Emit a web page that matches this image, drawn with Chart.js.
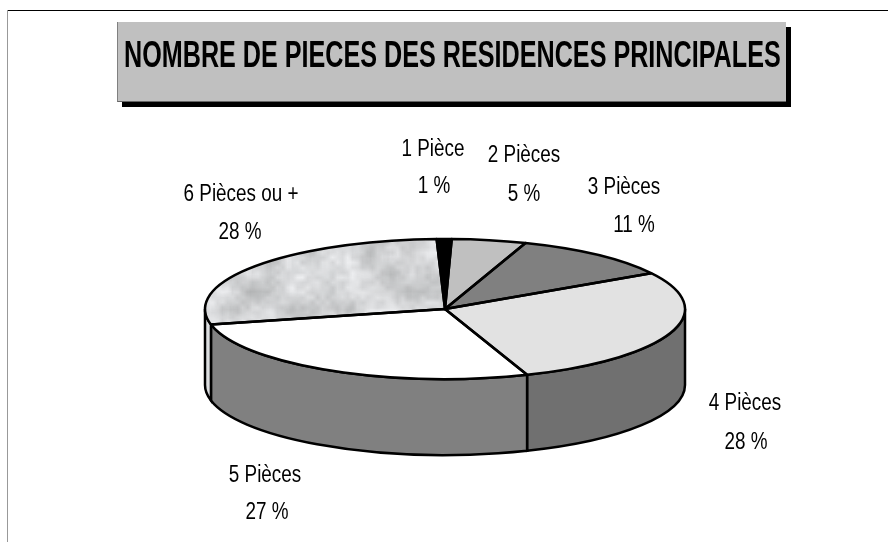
<!DOCTYPE html>
<html lang="fr">
<head>
  <meta charset="UTF-8">
  <title>Nombre de pieces des residences principales</title>
  <script src="https://cdn.jsdelivr.net/npm/chart.js"></script>
  <style>
    * {
      margin: 0;
      padding: 0;
      box-sizing: border-box;
    }

    body {
      width: 888px;
      height: 542px;
      overflow: hidden;
      background: #fff;
      position: relative;
      font-family: "Liberation Sans", sans-serif;
    }

    #topLine {
      position: absolute;
      left: 7px;
      top: 10px;
      width: 881px;
      height: 1px;
      background: #000;
    }

    #leftLine {
      position: absolute;
      left: 7px;
      top: 10px;
      width: 1px;
      height: 532px;
      background: #999;
    }

    #titleBox {
      position: absolute;
      left: 117px;
      top: 22px;
      width: 669px;
      height: 80px;
      background: #c0c0c0;
      border-left: 1px solid #808080;
      border-bottom: 1px solid #666;
      box-shadow: 5px 5px 0 #000;
    }

    #titleBox h1 {
      position: absolute;
      left: 6px;
      top: 13px;
      font-size: 37px;
      line-height: 40px;
      font-weight: bold;
      white-space: nowrap;
      color: #000;
      transform-origin: left center;
    }

    #chartCanvas {
      position: absolute;
      left: 0;
      top: 0;
    }
  </style>
</head>

<body>
<canvas id="chartCanvas" width="888" height="542"></canvas>
<div id="topLine"></div>
<div id="leftLine"></div>
<div id="titleBox"><h1 id="titleText">NOMBRE DE PIECES DES RESIDENCES PRINCIPALES</h1></div>

<script>
  const categories = ['1 Pièce', '2 Pièces', '3 Pièces', '4 Pièces', '5 Pièces', '6 Pièces ou +'];
  const values = [1, 5, 11, 28, 27, 28];

  const topColors = ['#000000', '#c0c0c0', '#808080', '#e2e2e2', '#ffffff'];
  const sideColors = ['#000000', '#909090', '#606060', '#707070', '#808080', '#dcdee0'];
  // label centres: [name x, name y, percent x, percent y]
  const labelSpots = [
    [433, 150, 434, 187],
    [524, 156, 524, 195],
    [624, 188, 634, 226],
    [745, 404, 746, 443],
    [265, 476, 267, 513],
    [241, 195, 240, 233]
  ];

  const pieCenterY = 309;
  const squash = 70 / 240;
  const depth = 76;
  const narrow = 0.82;

  // the title font is a narrow one, squeeze it to its width in the picture
  const titleText = document.getElementById('titleText');
  titleText.style.transform = `scaleX(${657 / titleText.offsetWidth})`;

  // marbled fill for the last slice: fine grain with big soft blotches on top
  function marble() {
    const hash = (x, y) => {
      const h = Math.sin(x * 127.1 + y * 311.7) * 43758.5453;
      return h - Math.floor(h);
    };
    const layer = (w, h, shade) => {
      const l = document.createElement('canvas');
      l.width = w;
      l.height = h;
      const s = l.getContext('2d');
      for (let y = 0; y < h; y++) {
        for (let x = 0; x < w; x++) {
          s.fillStyle = shade(hash(x, y));
          s.fillRect(x, y, 1, 1);
        }
      }
      return l;
    };
    const c = document.createElement('canvas');
    c.width = 480;
    c.height = 480;
    const g = c.getContext('2d');
    g.imageSmoothingEnabled = true;
    g.drawImage(layer(96, 28, (n) => {
      const v = Math.round(214 + n * 26);
      return `rgb(${v},${v + 1},${v + 3})`;
    }), 0, 0, 480, 480);
    g.drawImage(layer(24, 8, (n) => `rgba(150,152,152,${Math.max(0, n - 0.45) * 1.1})`), 0, 0, 480, 480);
    return g.createPattern(c, 'repeat');
  }

  const pieView = {
    id: 'pieView',
    beforeDatasetsDraw(chart) {
      const ctx = chart.ctx;
      const arcs = chart.getDatasetMeta(0).data;
      const {x: cx, y: cy, outerRadius: r} = arcs[0];
      const rx = r, ry = r * squash;

      // side wall, only the front half of the ellipse shows
      arcs.forEach((arc, i) => {
        const a0 = Math.max(arc.startAngle, 0);
        const a1 = Math.min(arc.endAngle, Math.PI);
        if (a1 <= a0) return;
        ctx.beginPath();
        ctx.ellipse(cx, pieCenterY, rx, ry, 0, a0, a1);
        ctx.ellipse(cx, pieCenterY + depth, rx, ry, 0, a1, a0, true);
        ctx.closePath();
        ctx.fillStyle = sideColors[i];
        ctx.fill();
        ctx.strokeStyle = '#000';
        ctx.lineWidth = 2.5;
        ctx.stroke();
      });

      // squash the flat pie into an ellipse
      ctx.save();
      ctx.translate(cx, pieCenterY);
      ctx.scale(1, squash);
      ctx.translate(-cx, -cy);
    },
    afterDatasetsDraw(chart) {
      const ctx = chart.ctx;
      ctx.restore();
      const arcs = chart.getDatasetMeta(0).data;
      const {x: cx, outerRadius: r} = arcs[0];

      // outlines are stroked unsquashed so the pen stays even
      ctx.strokeStyle = '#000';
      ctx.lineWidth = 2.5;
      ctx.lineJoin = 'round';
      arcs.forEach((arc) => {
        ctx.beginPath();
        ctx.moveTo(cx, pieCenterY);
        ctx.ellipse(cx, pieCenterY, r, r * squash, 0, arc.startAngle, arc.endAngle);
        ctx.closePath();
        ctx.stroke();
      });

      // labels
      ctx.fillStyle = '#000';
      ctx.font = '23px "Liberation Sans", sans-serif';
      ctx.textAlign = 'center';
      ctx.textBaseline = 'middle';
      const put = (text, x, y) => {
        ctx.save();
        ctx.translate(x, y);
        ctx.scale(narrow, 1);
        ctx.fillText(text, 0, 0);
        ctx.restore();
      };
      categories.forEach((name, i) => {
        const s = labelSpots[i];
        put(name, s[0], s[1]);
        put(values[i] + ' %', s[2], s[3]);
      });
    }
  };

  new Chart(document.getElementById('chartCanvas'), {
    type: 'pie',
    data: {
      labels: categories,
      datasets: [{
        data: values,
        backgroundColor: [...topColors, marble()],
        borderWidth: 0,
        clip: false
      }]
    },
    options: {
      responsive: false,
      animation: false,
      rotation: -2,
      layout: {padding: {left: 205, right: 203, top: 31, bottom: 31}},
      plugins: {legend: {display: false}, tooltip: {enabled: false}, title: {display: false}}
    },
    plugins: [pieView]
  });
</script>
</body>
</html>
